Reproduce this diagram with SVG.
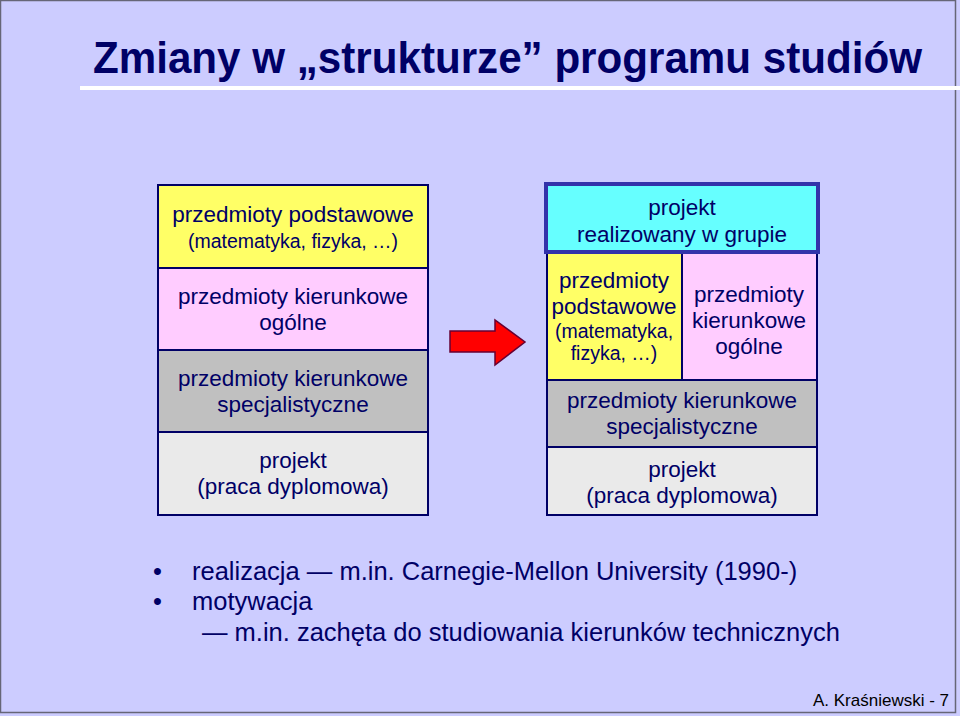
<svg xmlns="http://www.w3.org/2000/svg" width="960" height="716" viewBox="0 0 960 716">
<style>
text{font-family:"Liberation Sans",Arial,sans-serif;fill:#000066}
.b{font-size:22.5px;text-anchor:middle}
.s{font-size:19.5px;text-anchor:middle}
.box{stroke:#000066;stroke-width:2}
.bl{font-size:25.5px}
</style>
<rect x="0" y="0" width="960" height="716" fill="#ccccff"/>
<rect x="0.5" y="0.5" width="955" height="712" fill="none" stroke="#666677" stroke-width="1.5"/>
<text x="93" y="73" textLength="829" lengthAdjust="spacingAndGlyphs" style="font-size:44px;font-weight:bold;fill:#000066">Zmiany w „strukturze” programu studiów</text>
<rect x="80" y="86" width="880" height="4" fill="#ffffff"/>
<g id="left">
<rect class="box" x="158" y="185" width="270" height="83" fill="#ffff66"/>
<text class="b" x="293" y="222">przedmioty podstawowe</text>
<text class="s" x="293" y="248">(matematyka, fizyka, …)</text>
<rect class="box" x="158" y="268" width="270" height="82" fill="#ffccff"/>
<text class="b" x="293" y="304">przedmioty kierunkowe</text>
<text class="b" x="293" y="330">ogólne</text>
<rect class="box" x="158" y="350" width="270" height="82" fill="#c0c0c0"/>
<text class="b" x="293" y="386">przedmioty kierunkowe</text>
<text class="b" x="293" y="412">specjalistyczne</text>
<rect class="box" x="158" y="432" width="270" height="83" fill="#eaeaea"/>
<text class="b" x="293" y="468">projekt</text>
<text class="b" x="293" y="494">(praca dyplomowa)</text>
</g>
<g id="connectors">
<polygon points="450,331 495,331 495,320 525,342 495,365 495,352 450,352" fill="#ff0000" stroke="#660033" stroke-width="1.5"/>
</g>
<g id="right">
<rect class="box" x="547" y="253" width="135" height="127" fill="#ffff66"/>
<text class="b" x="614" y="288">przedmioty</text>
<text class="b" x="614" y="314">podstawowe</text>
<text class="s" x="614" y="338">(matematyka,</text>
<text class="s" x="614" y="360">fizyka, …)</text>
<rect class="box" x="682" y="253" width="135" height="127" fill="#ffccff"/>
<text class="b" x="749" y="302">przedmioty</text>
<text class="b" x="749" y="328">kierunkowe</text>
<text class="b" x="749" y="354">ogólne</text>
<rect class="box" x="547" y="380" width="270" height="67" fill="#c0c0c0"/>
<text class="b" x="682" y="408">przedmioty kierunkowe</text>
<text class="b" x="682" y="434">specjalistyczne</text>
<rect class="box" x="547" y="447" width="270" height="68" fill="#eaeaea"/>
<text class="b" x="682" y="477">projekt</text>
<text class="b" x="682" y="503">(praca dyplomowa)</text>
<rect x="546" y="184" width="272" height="68" fill="#66ffff" stroke="#3333aa" stroke-width="4"/>
<text class="b" x="682" y="215">projekt</text>
<text class="b" x="682" y="242">realizowany w grupie</text>
</g>
<text class="bl" x="153" y="580">•</text>
<text class="bl" x="192" y="580">realizacja — m.in. Carnegie-Mellon University (1990-)</text>
<text class="bl" x="153" y="610">•</text>
<text class="bl" x="192" y="610">motywacja</text>
<text class="bl" x="202" y="641">— m.in. zachęta do studiowania kierunków technicznych</text>
<text x="949" y="706" style="font-size:17px;text-anchor:end;fill:#000000">A. Kraśniewski - 7</text>
</svg>
